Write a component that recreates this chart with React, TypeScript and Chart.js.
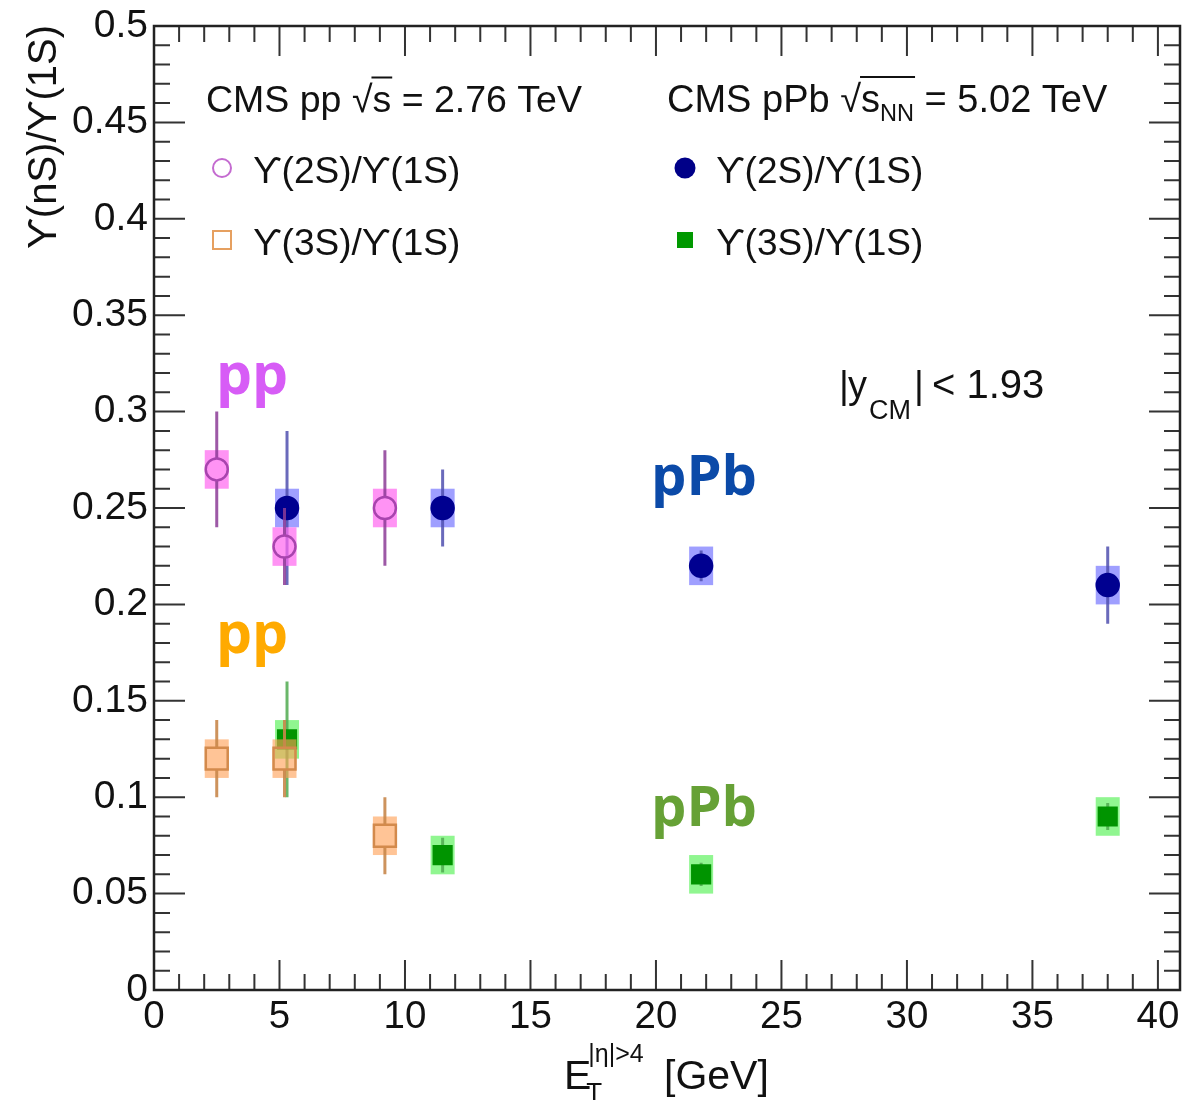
import React, { useEffect, useRef } from 'react';
import { Chart, registerables } from 'chart.js';

Chart.register(...registerables);

// ---------- data ----------
const X_TICKS = [0, 5, 10, 15, 20, 25, 30, 35, 40];
const X_TICK_LABELS = ['0', '5', '10', '15', '20', '25', '30', '35', '40'];
const Y_TICKS = [0, 0.05, 0.1, 0.15, 0.2, 0.25, 0.3, 0.35, 0.4, 0.45, 0.5];
const Y_TICK_LABELS = ['0', '0.05', '0.1', '0.15', '0.2', '0.25', '0.3', '0.35', '0.4', '0.45', '0.5'];

const PP_X = [2.5, 5.2, 9.2];
const PP_2S = [0.27, 0.23, 0.25];
const PP_2S_STAT = [0.03, 0.02, 0.03];
const PP_2S_SYST = [0.01, 0.01, 0.01];
const PP_3S = [0.12, 0.12, 0.08];
const PP_3S_STAT = [0.02, 0.02, 0.02];
const PP_3S_SYST = [0.01, 0.01, 0.01];

const PPB_X = [5.3, 11.5, 21.8, 38.0];
const PPB_2S = [0.25, 0.25, 0.22, 0.21];
const PPB_2S_STAT = [0.04, 0.02, 0.008, 0.02];
const PPB_2S_SYST = [0.01, 0.01, 0.01, 0.01];
const PPB_3S = [0.13, 0.07, 0.06, 0.09];
const PPB_3S_STAT = [0.03, 0.009, 0.006, 0.007];
const PPB_3S_SYST = [0.01, 0.01, 0.01, 0.01];

const X_MIN = 0;
const X_MAX = 40.88;
const Y_MIN = 0;
const Y_MAX = 0.5;

// ---------- styles ----------
const FONT = '"Liberation Sans", Arial, Helvetica, sans-serif';
const BOX_HALF = 12;

type Series = {
  label: string;
  x: number[];
  y: number[];
  stat: number[];
  syst: number[];
  boxColor: string;
  errColor: string;
  markerStyle: 'circle' | 'rect';
  radius: number;
  gap: number;
  fill: string;
  stroke: string;
};

const SERIES: Series[] = [
  {
    label: 'pp ϒ(2S)/ϒ(1S)', x: PP_X, y: PP_2S, stat: PP_2S_STAT, syst: PP_2S_SYST,
    boxColor: 'rgba(255,105,240,0.72)', errColor: 'rgba(140,60,150,0.85)',
    markerStyle: 'circle', radius: 11, gap: 11, fill: 'rgba(0,0,0,0)', stroke: '#a844ae',
  },
  {
    label: 'pp ϒ(3S)/ϒ(1S)', x: PP_X, y: PP_3S, stat: PP_3S_STAT, syst: PP_3S_SYST,
    boxColor: 'rgba(255,160,85,0.62)', errColor: 'rgba(200,135,75,0.9)',
    markerStyle: 'rect', radius: 15.5, gap: 11, fill: 'rgba(0,0,0,0)', stroke: '#d38a4c',
  },
  {
    label: 'pPb ϒ(2S)/ϒ(1S)', x: PPB_X, y: PPB_2S, stat: PPB_2S_STAT, syst: PPB_2S_SYST,
    boxColor: 'rgba(95,95,255,0.6)', errColor: 'rgba(80,80,175,0.85)',
    markerStyle: 'circle', radius: 11, gap: 10, fill: '#000090', stroke: '#000090',
  },
  {
    label: 'pPb ϒ(3S)/ϒ(1S)', x: PPB_X, y: PPB_3S, stat: PPB_3S_STAT, syst: PPB_3S_SYST,
    boxColor: 'rgba(70,240,70,0.6)', errColor: 'rgba(80,170,80,0.85)',
    markerStyle: 'rect', radius: 12.5, gap: 9, fill: '#009400', stroke: '#009400',
  },
];

function drawSeriesExtras(chart: any, s: Series) {
  const { ctx } = chart;
  const xs = chart.scales.x;
  const ys = chart.scales.y;
  ctx.save();
  s.x.forEach((xv, i) => {
    const px = xs.getPixelForValue(xv);
    const t = ys.getPixelForValue(s.y[i] + s.syst[i]);
    const b = ys.getPixelForValue(s.y[i] - s.syst[i]);
    ctx.fillStyle = s.boxColor;
    ctx.fillRect(px - BOX_HALF, t, BOX_HALF * 2, b - t);
  });
  ctx.strokeStyle = s.errColor;
  ctx.lineWidth = 3;
  s.x.forEach((xv, i) => {
    const px = xs.getPixelForValue(xv);
    const py = ys.getPixelForValue(s.y[i]);
    const t = ys.getPixelForValue(s.y[i] + s.stat[i]);
    const b = ys.getPixelForValue(s.y[i] - s.stat[i]);
    ctx.beginPath();
    if (py - s.gap > t) {
      ctx.moveTo(px, t);
      ctx.lineTo(px, py - s.gap);
    }
    if (py + s.gap < b) {
      ctx.moveTo(px, py + s.gap);
      ctx.lineTo(px, b);
    }
    ctx.stroke();
  });
  ctx.restore();
}

function text(ctx: CanvasRenderingContext2D, s: string, x: number, y: number, size: number, color = '#111', weight = '', family = FONT, align: CanvasTextAlign = 'left') {
  ctx.font = `${weight} ${size}px ${family}`.trim();
  ctx.fillStyle = color;
  ctx.textAlign = align;
  ctx.textBaseline = 'alphabetic';
  ctx.fillText(s, x, y);
  return x + ctx.measureText(s).width;
}

function sqrtS(ctx: CanvasRenderingContext2D, x: number, y: number, size: number, sub?: string) {
  let cx = text(ctx, '√', x, y, size);
  const start = cx - 1;
  cx = text(ctx, 's', cx, y, size);
  if (sub) cx = text(ctx, sub, cx, y + 9, size * 0.62);
  ctx.save();
  ctx.strokeStyle = '#111';
  ctx.lineWidth = 2;
  ctx.beginPath();
  ctx.moveTo(start, y - size * 0.92);
  ctx.lineTo(cx + 1, y - size * 0.92);
  ctx.stroke();
  ctx.restore();
  return cx;
}

const decorPlugin = {
  id: 'decor',
  beforeDatasetDraw(chart: any, args: any) {
    drawSeriesExtras(chart, SERIES[args.index]);
  },
  afterDraw(chart: any) {
    const { ctx, chartArea } = chart;
    const xs = chart.scales.x;
    const ys = chart.scales.y;
    const { left, right, top, bottom } = chartArea;
    ctx.save();
    // ticks
    ctx.strokeStyle = '#333';
    ctx.lineWidth = 2;
    ctx.beginPath();
    for (let v = 0; v <= 40; v++) {
      const px = xs.getPixelForValue(v);
      const len = v % 5 === 0 ? 30 : 16;
      ctx.moveTo(px, bottom);
      ctx.lineTo(px, bottom - len);
      ctx.moveTo(px, top);
      ctx.lineTo(px, top + len);
    }
    for (let k = 0; k <= 50; k++) {
      const py = ys.getPixelForValue(k / 100);
      const len = k % 5 === 0 ? 31 : 16;
      ctx.moveTo(left, py);
      ctx.lineTo(left + len, py);
      ctx.moveTo(right, py);
      ctx.lineTo(right - len, py);
    }
    ctx.stroke();
    // frame
    ctx.strokeStyle = '#222';
    ctx.lineWidth = 2.5;
    ctx.strokeRect(left, top, right - left, bottom - top);

    // legend left
    let cx = text(ctx, 'CMS pp ', 206, 112, 37.5);
    cx = sqrtS(ctx, cx, 112, 37.5);
    text(ctx, ' = 2.76 TeV', cx, 112, 37.5);
    ctx.strokeStyle = '#c46bd0';
    ctx.lineWidth = 2;
    ctx.beginPath();
    ctx.arc(222, 168, 9, 0, Math.PI * 2);
    ctx.stroke();
    text(ctx, 'ϒ(2S)/ϒ(1S)', 253, 183, 37);
    ctx.strokeStyle = '#e6a060';
    ctx.strokeRect(213, 231, 18, 18);
    text(ctx, 'ϒ(3S)/ϒ(1S)', 253, 255, 37);

    // legend right
    cx = text(ctx, 'CMS pPb ', 667, 112, 38);
    cx = sqrtS(ctx, cx, 112, 38, 'NN');
    text(ctx, ' = 5.02 TeV', cx, 112, 38);
    ctx.fillStyle = '#000088';
    ctx.beginPath();
    ctx.arc(685, 168, 10.5, 0, Math.PI * 2);
    ctx.fill();
    text(ctx, 'ϒ(2S)/ϒ(1S)', 716, 183, 37);
    ctx.fillStyle = '#009900';
    ctx.fillRect(677, 232, 16, 16);
    text(ctx, 'ϒ(3S)/ϒ(1S)', 716, 255, 37);

    // rapidity text
    text(ctx, '|', 839, 398, 38);
    text(ctx, 'y', 848, 398, 38);
    text(ctx, 'CM', 869, 419, 27);
    text(ctx, '|', 914, 398, 38);
    text(ctx, '< 1.93', 932, 398, 40);

    // coloured labels
    const BF = '"Open Sans", "Noto Sans", sans-serif';
    text(ctx, 'pp', 216, 394, 57, '#d75cf6', 'bold', BF);
    text(ctx, 'pp', 216, 653, 57, '#ffaa00', 'bold', BF);
    text(ctx, 'pPb', 651, 495, 56, '#0b4aa8', 'bold', BF);
    text(ctx, 'pPb', 651, 826, 56, '#66a136', 'bold', BF);

    // x title
    cx = text(ctx, 'E', 564, 1089, 41);
    text(ctx, 'T', cx - 5, 1101, 26);
    text(ctx, '|η|>4', cx - 3, 1062, 25);
    text(ctx, '[GeV]', 664, 1089, 41);

    // y title
    ctx.save();
    ctx.translate(56, 25);
    ctx.rotate(-Math.PI / 2);
    text(ctx, 'ϒ(nS)/ϒ(1S)', 0, 0, 40, '#111', '', FONT, 'right');
    ctx.restore();

    ctx.restore();
  },
};

export default function App() {
  const ref = useRef<HTMLCanvasElement | null>(null);
  useEffect(() => {
    if (!ref.current) return;
    const chart = new Chart(ref.current, {
      type: 'scatter',
      data: {
        datasets: SERIES.map((s) => ({
          label: s.label,
          data: s.x.map((xv, i) => ({ x: xv, y: s.y[i] })),
          pointStyle: s.markerStyle,
          pointRadius: s.radius,
          pointHoverRadius: s.radius,
          pointBackgroundColor: s.fill,
          pointBorderColor: s.stroke,
          pointBorderWidth: 2.5,
          showLine: false,
        })),
      },
      options: {
        animation: false,
        responsive: false,
        devicePixelRatio: 1,
        events: [],
        layout: { autoPadding: false, padding: { top: 26, right: 4, left: 0, bottom: 0 } },
        plugins: { legend: { display: false }, tooltip: { enabled: false } },
        scales: {
          x: {
            type: 'linear',
            min: X_MIN,
            max: X_MAX,
            afterBuildTicks: (s: any) => { s.ticks = X_TICKS.map((v) => ({ value: v })); },
            afterFit: (s: any) => { s.height = 110; s.paddingLeft = 0; s.paddingRight = 0; },
            grid: { display: false, drawTicks: false },
            border: { display: false },
            ticks: {
              autoSkip: false,
              maxRotation: 0,
              padding: 4,
              color: '#111',
              font: { family: FONT, size: 38.5 },
              callback: (_v: any, i: number) => X_TICK_LABELS[i],
            },
          },
          y: {
            type: 'linear',
            min: Y_MIN,
            max: Y_MAX,
            afterBuildTicks: (s: any) => { s.ticks = Y_TICKS.map((v) => ({ value: v })); },
            afterFit: (s: any) => { s.width = 154; s.paddingTop = 0; s.paddingBottom = 0; },
            grid: { display: false, drawTicks: false },
            border: { display: false },
            ticks: {
              autoSkip: false,
              padding: 6,
              color: '#111',
              font: { family: FONT, size: 39 },
              callback: (_v: any, i: number) => Y_TICK_LABELS[i],
            },
          },
        },
      },
      plugins: [decorPlugin],
    });
    return () => chart.destroy();
  }, []);
  return (
    <div style={{ position: 'absolute', left: 0, top: 0, width: 1184, height: 1100, background: '#fff' }}>
      <canvas ref={ref} width={1184} height={1100} style={{ display: 'block' }} />
    </div>
  );
}
